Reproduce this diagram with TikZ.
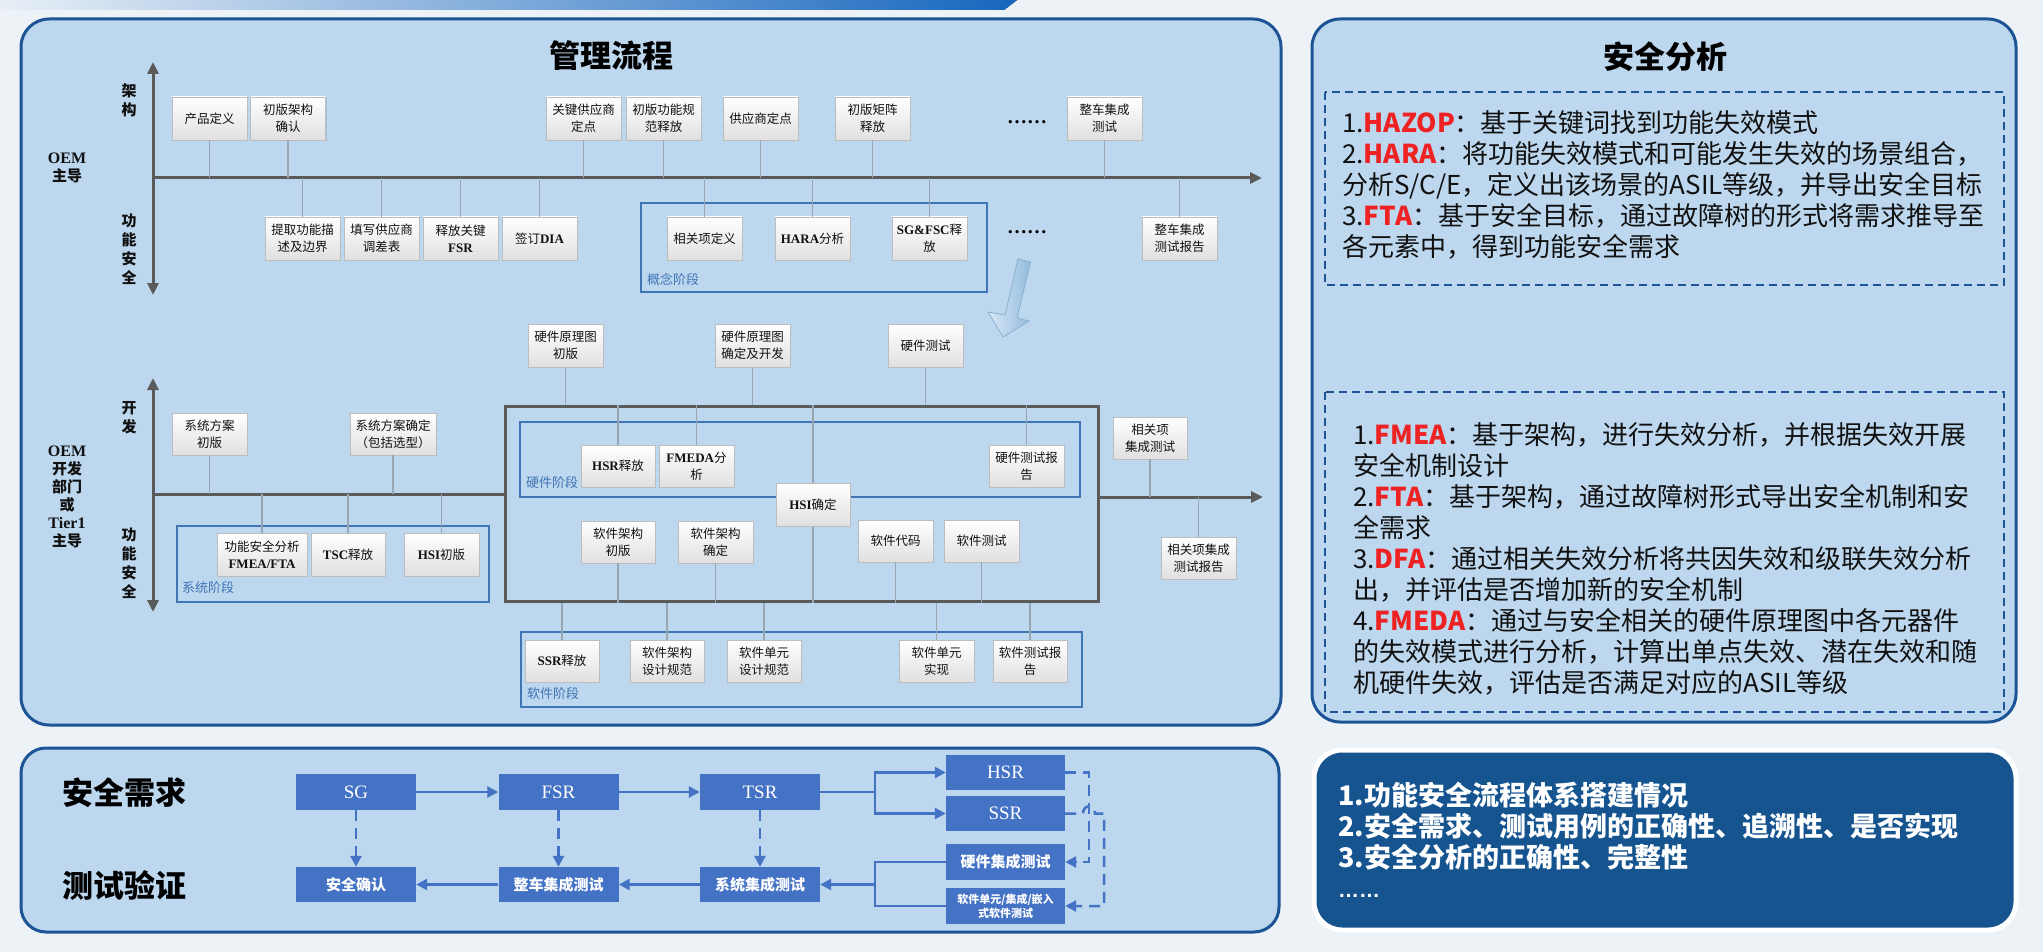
\documentclass[tikz,border=0pt]{standalone}
\usepackage{fontspec}
\setmainfont{Noto Sans CJK SC}
\newfontfamily\lserif{Liberation Serif}
\newfontfamily\lsans{Liberation Sans}
\usetikzlibrary{arrows.meta,shadows}
\definecolor{bgc}{HTML}{EDF2F7}
\definecolor{panelfill}{HTML}{BCD7EE}
\definecolor{panelline}{HTML}{1D5496}
\definecolor{boxline}{HTML}{BDBDBD}
\definecolor{boxbot}{HTML}{E0E0E0}
\definecolor{connc}{HTML}{98A6B4}
\definecolor{axisc}{HTML}{5A5A5A}
\definecolor{phasec}{HTML}{3F74B5}
\definecolor{bluebox}{HTML}{4472C4}
\definecolor{navy}{HTML}{15548F}
\definecolor{redt}{HTML}{EE2222}
\definecolor{darkt}{HTML}{111111}
\definecolor{arrowhi}{HTML}{D8E8F5}
\definecolor{arrowlo}{HTML}{93BCDD}
\definecolor{arrowedge}{HTML}{86AACB}
\definecolor{barl}{HTML}{E8EFF6}
\definecolor{barr}{HTML}{1666BE}
\newcommand{\lat}[1]{{\lserif\bfseries\fontsize{13}{17}\selectfont #1}}
\newcommand{\latO}[1]{{\lserif\bfseries\fontsize{16}{18}\selectfont #1}}
\newcommand{\bxf}{\fontsize{12.5}{17}\selectfont}
\newcommand{\rt}[1]{\textcolor{redt}{\bfseries #1}}
\begin{document}
\begin{tikzpicture}[x=1pt,y=-1pt,
  panel/.style={fill=panelfill, draw=panelline, line width=3pt, rounded corners=28pt},
  gbox/.style={draw=boxline, line width=0.8pt, top color=white, bottom color=boxbot, minimum width=75pt, minimum height=43pt, inner sep=1pt, align=center, font=\bxf, text=darkt, drop shadow={shadow xshift=1.2pt, shadow yshift=-1.2pt, opacity=0.25}},
  conn/.style={draw=connc, line width=1.2pt},
  axisline/.style={draw=axisc, line width=3pt},
  axtip/.style={-{Triangle[length=12pt,width=11pt]}},
  axdbl/.style={{Triangle[length=12pt,width=11pt]}-{Triangle[length=12pt,width=11pt]}},
  phase/.style={draw=phasec, line width=2pt},
  phl/.style={anchor=west, inner sep=0, text=phasec, font=\fontsize{13}{13}\selectfont},
  vlab/.style={font=\bfseries\fontsize{15}{19}\selectfont, align=center, inner sep=0, text=darkt},
  olab/.style={font=\bfseries\fontsize{15}{18}\selectfont, align=center, inner sep=0, text=darkt},
  ttl/.style={font=\bfseries\fontsize{31}{31}\selectfont, text=black},
  bbox/.style={fill=bluebox, text=white, minimum width=120pt, minimum height=36pt, inner sep=1pt, align=center},
  bl/.style={font=\lserif\fontsize{19}{19}\selectfont},
  bc/.style={font=\bfseries\fontsize{15}{15}\selectfont},
  bline/.style={draw=bluebox, line width=2.5pt},
  barrow/.style={bline, -{Triangle[length=11pt,width=11pt]}},
  dbarrow/.style={barrow, dash pattern=on 11pt off 7pt},
  dashbox/.style={draw=panelline, line width=2pt, dash pattern=on 8pt off 5pt},
  txt/.style={anchor=north west, inner sep=0, align=left, text=darkt, font=\fontsize{26}{31}\selectfont},
  wtxt/.style={anchor=north west, inner sep=0, align=left, text=white, font=\bfseries\fontsize{27}{31}\selectfont},
  dots/.style={font=\lserif\bfseries\fontsize{20}{20}\selectfont, inner sep=0}
]
\useasboundingbox (0,0) rectangle (2043,952);
\fill[bgc] (0,0) rectangle (2043,952);
\fill[left color=barl, right color=barr] (0,0) -- (1017,0) -- (1004,10) -- (0,10) -- cycle;

%% ---------------- panel 1 ----------------
\draw[panel] (21,19) rectangle (1281,725);
\node[ttl] (t1) at (611,56) {管理流程};

% upper axes
\coordinate (vu1) at (153,62); \coordinate (vd1) at (153,295);
\coordinate (h1s) at (153,178); \coordinate (h1e) at (1262,178);
\draw[axisline, axdbl] (vu1) -- (vd1);
\draw[axisline, axtip] (h1s) -- (h1e);
\node[vlab] (lab1) at (129,100) {架\\构};
\node[vlab] (lab2) at (129,249) {功\\能\\安\\全};
\node[olab] (o1) at (67,167.5) {\latO{OEM}\\主导};

\draw[phase] (641,203) rectangle (987,292);
\node[phl] (ph1) at (647,279) {概念阶段};

\node[gbox] (p1) at (209.5,118.5) {产品定义};
\node[gbox] (p2) at (288,118.5) {初版架构\\确认};
\node[gbox] (p3) at (583.5,118.5) {关键供应商\\定点};
\node[gbox] (p4) at (663.5,118.5) {初版功能规\\范释放};
\node[gbox] (p5) at (760.5,118.5) {供应商定点};
\node[gbox] (p6) at (872.5,118.5) {初版矩阵\\释放};
\node[gbox] (p7) at (1104.5,118.5) {整车集成\\测试};
\node[dots] (dt1) at (1027,122) {……};

\node[gbox] (q1) at (302.5,238.5) {提取功能描\\述及边界};
\node[gbox] (q2) at (381.5,238.5) {填写供应商\\调差表};
\node[gbox] (q3) at (460.5,238.5) {释放关键\\\lat{FSR}};
\node[gbox] (q4) at (539.5,238.5) {签订\lat{DIA}};
\node[gbox] (q5) at (704.5,238.5) {相关项定义};
\node[gbox] (q6) at (812.5,238.5) {\lat{HARA}分析};
\node[gbox] (q7) at (929.5,238.5) {\lat{SG\&FSC}释\\放};
\node[gbox] (q8) at (1179.5,238.5) {整车集成\\测试报告};
\node[dots] (dt2) at (1027,232) {……};

\foreach \n in {p1,p2,p3,p4,p5,p6,p7} \draw[conn] (\n.south) -- (\n.south |- h1s);
\foreach \n in {q1,q2,q3,q4,q5,q6,q7,q8} \draw[conn] (\n.north) -- (\n.north |- h1s);

% big slanted arrow
\draw[draw=arrowedge, line width=0.7pt, left color=arrowhi, right color=arrowlo]
  (1018,259) -- (1030.5,262) -- (1017,318) -- (1029,321) -- (1003,337) -- (988,312) -- (1005,315) -- cycle;

% lower axes
\coordinate (vu2) at (153,378); \coordinate (vd2) at (153,612);
\coordinate (h2s) at (153,494); \coordinate (h2e) at (1263,497);
\draw[axisline, axdbl] (vu2) -- (vd2);
\node[vlab] (lab3) at (129,417.5) {开\\发};
\node[vlab] (lab4) at (129,563.5) {功\\能\\安\\全};
\node[olab] (o2) at (67,497) {\latO{OEM}\\开发\\部门\\或\\\latO{Tier1}\\主导};

\node[draw=axisc, line width=3pt, minimum width=593pt, minimum height=195pt, inner sep=0] (big) at (801.5,503.5) {};
\draw[axisline] (h2s) -- (big.west |- h2s);
\draw[axisline, axtip] (big.east |- h2e) -- (h2e);

\draw[phase] (177,526) rectangle (489,602);
\node[phl] (ph2) at (182,588) {系统阶段};
\draw[phase] (520,422) rectangle (1080,497);
\node[phl] (ph3) at (526,483) {硬件阶段};
\draw[phase] (521,632) rectangle (1082,707);
\node[phl] (ph4) at (527,694) {软件阶段};

\node[gbox, minimum height=42pt] (r1) at (209.5,434) {系统方案\\初版};
\node[gbox, minimum height=42pt, minimum width=86pt] (r2) at (393,434) {系统方案确定\\（包括选型）};
\node[gbox, minimum width=90pt] (s1) at (262,554.5) {功能安全分析\\\lat{FMEA/FTA}};
\node[gbox, minimum width=74pt] (s2) at (348,554.5) {\lat{TSC}释放};
\node[gbox] (s3) at (441.5,554.5) {\lat{HSI}初版};
\foreach \n in {r1,r2} \draw[conn] (\n.south) -- (\n.south |- h2s);
\foreach \n in {s1,s2,s3} \draw[conn] (\n.north) -- (\n.north |- h2s);

\node[gbox] (a1) at (565.5,345.5) {硬件原理图\\初版};
\node[gbox] (a2) at (752.5,345.5) {硬件原理图\\确定及开发};
\node[gbox] (a3) at (925.5,345.5) {硬件测试};
\foreach \n in {a1,a2,a3} \draw[conn] (\n.south) -- (\n.south |- big.north);

\coordinate (hsix) at (813,0);
\draw[conn] (big.north -| hsix) -- (big.south -| hsix);

\node[gbox, minimum height=42pt, minimum width=74pt] (h1) at (618,466) {\lat{HSR}释放};
\node[gbox, minimum height=42pt] (h2) at (696.5,466) {\lat{FMEDA}分\\析};
\node[gbox, minimum height=42pt] (h3) at (1026.5,466) {硬件测试报\\告};
\foreach \n in {h1,h2,h3} \draw[conn] (\n.north) -- (\n.north |- big.north);
\node[gbox, minimum width=74pt] (hsi) at (813,504.5) {\lat{HSI}确定};

\node[gbox, minimum height=42pt, minimum width=74pt] (w1) at (618,542) {软件架构\\初版};
\node[gbox, minimum height=42pt] (w2) at (715.5,542) {软件架构\\确定};
\node[gbox, minimum height=42pt] (w3) at (895.5,541) {软件代码};
\node[gbox, minimum height=42pt] (w4) at (981.5,541) {软件测试};
\foreach \n in {w1,w2,w3,w4} \draw[conn] (\n.south) -- (\n.south |- big.south);

\node[gbox, minimum height=42pt, minimum width=74pt] (v1) at (562,661) {\lat{SSR}释放};
\node[gbox, minimum height=42pt, minimum width=74pt] (v2) at (667,661) {软件架构\\设计规范};
\node[gbox, minimum height=42pt, minimum width=74pt] (v3) at (764,661) {软件单元\\设计规范};
\node[gbox, minimum height=42pt] (v4) at (936.5,661) {软件单元\\实现};
\node[gbox, minimum height=42pt, minimum width=74pt] (v5) at (1030,661) {软件测试报\\告};
\foreach \n in {v1,v2,v3,v4,v5} \draw[conn] (\n.north) -- (\n.north |- big.south);

\node[gbox, minimum height=42pt, minimum width=74pt] (i1) at (1150,438) {相关项\\集成测试};
\node[gbox, minimum height=42pt] (i2) at (1198.5,558) {相关项集成\\测试报告};
\draw[conn] (i1.south) -- (i1.south |- h2e);
\draw[conn] (i2.north) -- (i2.north |- h2e);

%% ---------------- bottom-left panel ----------------
\draw[panel, rounded corners=25pt] (21,748) rectangle (1279,932);
\node[ttl] (t3) at (124,793) {安全需求};
\node[ttl] (t4) at (124,886) {测试验证};

\node[bbox, bl] (SG) at (356,792) {SG};
\node[bbox, bl] (FSR) at (558.5,792) {FSR};
\node[bbox, bl] (TSR) at (760,792) {TSR};
\node[bbox, bc, minimum height=35pt] (SC) at (356,884.5) {安全确认};
\node[bbox, bc, minimum height=35pt] (VIT) at (558.5,884.5) {整车集成测试};
\node[bbox, bc, minimum height=35pt] (SIT) at (760,884.5) {系统集成测试};
\node[bbox, bl, minimum width=119pt, minimum height=35pt] (HSR) at (1005.5,772.5) {HSR};
\node[bbox, bl, minimum width=119pt, minimum height=35pt] (SSR) at (1005.5,813.5) {SSR};
\node[bbox, bc, minimum width=119pt, minimum height=36pt] (HWT) at (1005.5,862) {硬件集成测试};
\node[bbox, minimum width=119pt, minimum height=36pt, font=\bfseries\fontsize{11}{14}\selectfont] (SWT) at (1005.5,906) {软件单元/集成/嵌入\\式软件测试};

\draw[barrow] (SG) -- (FSR);
\draw[barrow] (FSR) -- (TSR);
\coordinate (j1) at (875,792);
\draw[bline] (TSR.east) -- (j1);
\draw[barrow] (j1) |- (HSR.west);
\draw[barrow] (j1) |- (SSR.west);
\draw[dbarrow] (SG.south) -- (SC.north);
\draw[dbarrow] (FSR.south) -- (VIT.north);
\draw[dbarrow] (TSR.south) -- (SIT.north);
\coordinate (j2) at (875,884.5);
\draw[bline] (HWT.west) -| (j2 |- SWT.west) -- (SWT.west);
\draw[barrow] (j2) -- (SIT.east);
\draw[barrow] (SIT.west) -- (VIT.east);
\draw[barrow] (VIT.west) -- (SC.east);
\coordinate (d1) at (1089,772.5);
\draw[dbarrow] (HSR.east) -- (d1) |- (HWT.east);
\coordinate (d2) at (1104,813.5);
\draw[dbarrow] (SSR.east) -- (1083,813.5) .. controls (1083,804) and (1095,804) .. (1095,813.5) -- (d2) |- (SWT.east);

%% ---------------- right panel ----------------
\draw[panel] (1312,19) rectangle (2016,722);
\node[ttl] (t2) at (1665,57) {安全分析};
\draw[dashbox] (1325,92) rectangle (2004,285);
\node[txt] (sa1) at (1342,110) {1.\rt{HAZOP}：基于关键词找到功能失效模式\\2.\rt{HARA}：将功能失效模式和可能发生失效的场景组合，\\分析S/C/E，定义出该场景的ASIL等级，并导出安全目标\\3.\rt{FTA}：基于安全目标，通过故障树的形式将需求推导至\\各元素中，得到功能安全需求};
\draw[dashbox] (1325,392) rectangle (2004,712);
\node[txt] (sa2) at (1353,422) {1.\rt{FMEA}：基于架构，进行失效分析，并根据失效开展\\安全机制设计\\2.\rt{FTA}：基于架构，通过故障树形式导出安全机制和安\\全需求\\3.\rt{DFA}：通过相关失效分析将共因失效和级联失效分析\\出，并评估是否增加新的安全机制\\4.\rt{FMEDA}：通过与安全相关的硬件原理图中各元器件\\的失效模式进行分析，计算出单点失效、潜在失效和随\\机硬件失效，评估是否满足对应的ASIL等级};

%% ---------------- bottom-right panel ----------------
\draw[draw=white, line width=5pt, fill=navy, rounded corners=28pt] (1314,750) rectangle (2016,930);
\node[wtxt] (c1) at (1338,782) {1.功能安全流程体系搭建情况\\2.安全需求、测试用例的正确性、追溯性、是否实现\\3.安全分析的正确性、完整性};
\node[anchor=base west, inner sep=0, text=white, font=\lsans\bfseries\fontsize{21}{21}\selectfont] (c4) at (1338,897) {……};
\end{tikzpicture}
\end{document}
